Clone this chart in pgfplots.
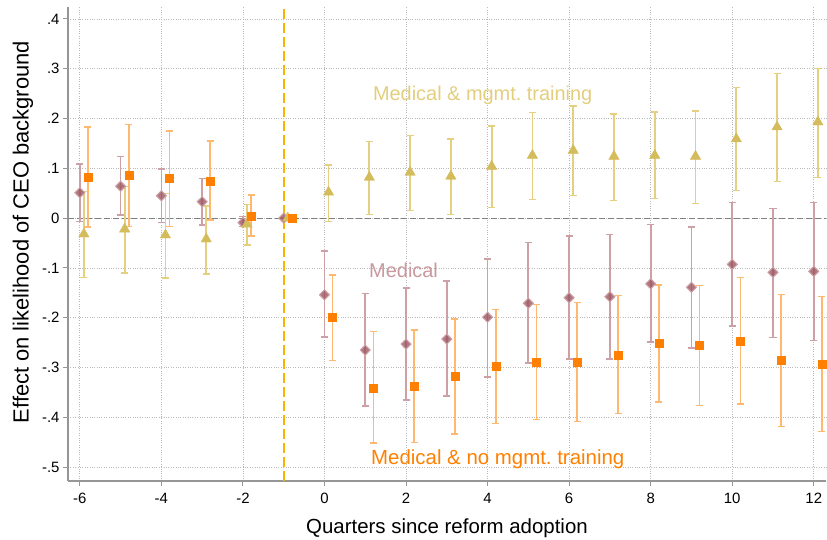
\documentclass[border=0pt]{standalone}
\usepackage{pgfplots}
\pgfplotsset{compat=1.18}
\usepackage{pgfplotstable}
\usepackage{fontspec}
\setmainfont{Liberation Sans}
\definecolor{mauve}{RGB}{155,85,95}
\definecolor{mauvebar}{RGB}{205,160,165}
\definecolor{gold}{RGB}{212,188,92}
\definecolor{goldbar}{RGB}{228,208,128}
\definecolor{org}{RGB}{255,127,0}
\definecolor{orgbar}{RGB}{255,184,112}
\definecolor{refline}{RGB}{250,180,0}
\definecolor{axgray}{RGB}{150,150,150}

\pgfplotstableread{
x y lo hi
-6 0.051 -0.007 0.109
-5 0.064 0.006 0.124
-4 0.045 -0.009 0.099
-3 0.033 -0.014 0.080
-2 -0.009 -0.017 0.003
-1 0 0 0
0 -0.154 -0.239 -0.066
1 -0.265 -0.377 -0.152
2 -0.253 -0.365 -0.140
3 -0.243 -0.357 -0.126
4 -0.199 -0.319 -0.082
5 -0.171 -0.291 -0.049
6 -0.160 -0.283 -0.036
7 -0.158 -0.283 -0.033
8 -0.132 -0.249 -0.013
9 -0.139 -0.261 -0.018
10 -0.093 -0.217 0.031
11 -0.109 -0.240 0.019
12 -0.107 -0.246 0.031
}\medical

\pgfplotstableread{
x y lo hi
-5.9 -0.032 -0.119 0.053
-4.9 -0.022 -0.110 0.063
-3.9 -0.034 -0.120 0.050
-2.9 -0.042 -0.112 0.024
-1.9 -0.012 -0.054 0.027
-0.9 0 0 0
0.1 0.052 -0.007 0.107
1.1 0.082 0.007 0.154
2.1 0.092 0.015 0.166
3.1 0.084 0.007 0.159
4.1 0.104 0.021 0.185
5.1 0.126 0.037 0.212
6.1 0.136 0.045 0.225
7.1 0.124 0.035 0.209
8.1 0.126 0.039 0.213
9.1 0.124 0.029 0.215
10.1 0.159 0.055 0.262
11.1 0.183 0.074 0.290
12.1 0.193 0.082 0.301
}\training

\pgfplotstableread{
x y lo hi
-5.8 0.083 -0.018 0.183
-4.8 0.086 -0.017 0.188
-3.8 0.080 -0.017 0.175
-2.8 0.075 -0.004 0.155
-1.8 0.004 -0.036 0.046
-0.8 0 0 0
0.2 -0.200 -0.286 -0.114
1.2 -0.341 -0.452 -0.228
2.2 -0.338 -0.451 -0.225
3.2 -0.318 -0.434 -0.203
4.2 -0.298 -0.413 -0.183
5.2 -0.289 -0.405 -0.173
6.2 -0.289 -0.408 -0.170
7.2 -0.275 -0.392 -0.155
8.2 -0.252 -0.369 -0.134
9.2 -0.256 -0.376 -0.135
10.2 -0.247 -0.373 -0.119
11.2 -0.286 -0.418 -0.154
12.2 -0.293 -0.428 -0.157
}\nomgmt

\begin{document}
\begin{tikzpicture}
\begin{axis}[
  at={(0,0)}, anchor=south west,
  scale only axis, width=758bp, height=474bp,
  xmin=-6.29, xmax=12.3, ymin=-0.528, ymax=0.424,
  axis x line*=bottom, axis y line*=left,
  axis line style={-, axgray, line width=1.5bp},
  xtick={-6,-4,-2,0,2,4,6,8,10,12},
  xticklabels={-6,-4,-2,0,2,4,6,8,10,12},
  ytick={-0.5,-0.4,-0.3,-0.2,-0.1,0,0.1,0.2,0.3,0.4},
  yticklabels={-.5,-.4,-.3,-.2,-.1,0,.1,.2,.3,.4},
  tick align=outside, major tick length=5bp,
  tick style={axgray, line width=1bp},
  grid=major, grid style={dotted, gray!55, line width=0.7bp},
  tick label style={font=\fontsize{15}{15}\selectfont},
  xticklabel style={yshift=-4bp},
  xlabel style={font=\fontsize{20.5}{20.5}\selectfont, yshift=-8bp},
  ylabel style={font=\fontsize{22}{22}\selectfont, at={(ticklabel cs:0.525)}, yshift=2bp},
  xlabel={Quarters since reform adoption},
  ylabel={Effect on likelihood of CEO background},
  clip=false,
]
\addplot[gray, line width=1bp, dash pattern=on 6bp off 3bp] coordinates {(-6.29,0) (12.3,0)};
\addplot[draw=refline, line width=2bp, dash pattern=on 10bp off 4bp] coordinates {(-1,-0.528) (-1,0.424)};

\addplot[only marks, mark=diamond*, mark size=5bp,
  mark options={xscale=1.33, fill=mauve, draw=mauvebar, fill opacity=0.8, line width=1bp},
  error bars/.cd, y dir=both, y explicit,
  error bar style={draw=mauvebar, line width=1.7bp},
  error mark options={rotate=90, mark size=3.5bp, draw=mauvebar, line width=1.4bp}]
  table[x=x, y=y, y error plus expr=\thisrow{hi}-\thisrow{y}, y error minus expr=\thisrow{y}-\thisrow{lo}] {\medical};

\addplot[only marks, mark=triangle*, mark size=6bp,
  mark options={fill=gold, draw=gold},
  error bars/.cd, y dir=both, y explicit,
  error bar style={draw=goldbar, line width=1.7bp},
  error mark options={rotate=90, mark size=3.5bp, draw=goldbar, line width=1.4bp}]
  table[x=x, y=y, y error plus expr=\thisrow{hi}-\thisrow{y}, y error minus expr=\thisrow{y}-\thisrow{lo}] {\training};

\addplot[only marks, mark=square*, mark size=4bp,
  mark options={fill=org, draw=org},
  error bars/.cd, y dir=both, y explicit,
  error bar style={draw=orgbar, line width=1.7bp},
  error mark options={rotate=90, mark size=3.5bp, draw=orgbar, line width=1.4bp}]
  table[x=x, y=y, y error plus expr=\thisrow{hi}-\thisrow{y}, y error minus expr=\thisrow{y}-\thisrow{lo}] {\nomgmt};

\node[text=goldbar!90!gold, font=\fontsize{20}{20}\selectfont] at (axis cs:3.88,0.247) {Medical \& mgmt.\ training};
\node[text=mauvebar!90!mauve, font=\fontsize{20}{20}\selectfont] at (axis cs:1.94,-0.105) {Medical};
\node[text=org, font=\fontsize{20.5}{20.5}\selectfont] at (axis cs:4.25,-0.484) {Medical \& no mgmt.\ training};
\end{axis}
\pgfresetboundingbox
\useasboundingbox (-68bp,-59bp) rectangle (759bp,481bp);
\end{tikzpicture}
\end{document}
